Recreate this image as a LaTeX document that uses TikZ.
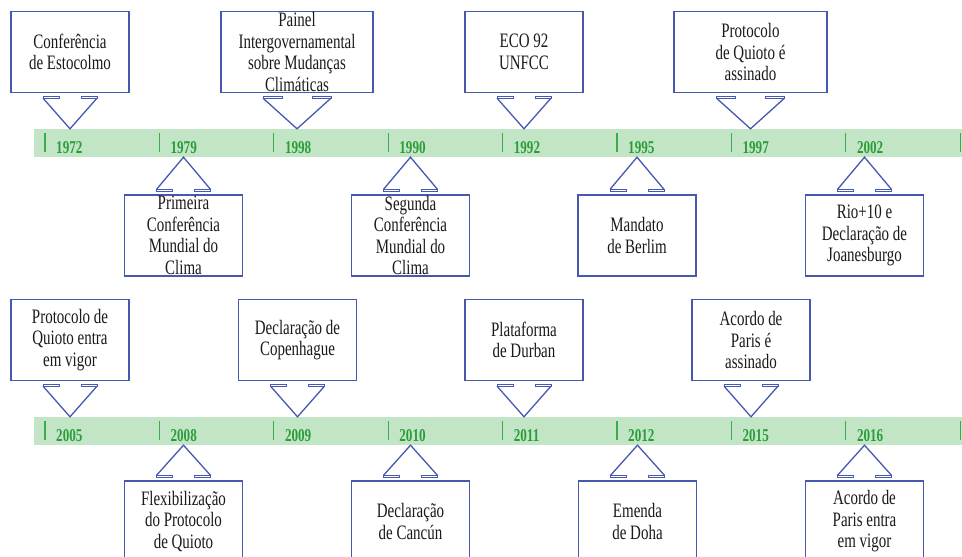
\documentclass[tikz,border=0pt]{standalone}
\usepackage{fontspec}
\setmainfont{Liberation Serif}[FakeStretch=0.73]
\definecolor{boxblue}{HTML}{4758B0}
\definecolor{bandgreen}{HTML}{C2E5C5}
\definecolor{tickgreen}{HTML}{3CAB4B}
\definecolor{yeargreen}{HTML}{2A9C3A}
\definecolor{textgray}{HTML}{1A1A1A}
\begin{document}
\begin{tikzpicture}[x=1pt,y=-1pt,
  callout/.style={draw=boxblue,line width=1.3pt,fill=white,minimum width=118pt,minimum height=81pt,inner sep=0pt,align=center,text=textgray,font=\fontsize{20.5}{21.5}\selectfont},
  band/.style={fill=bandgreen,minimum width=928pt,minimum height=28pt,inner sep=0pt},
  yearlbl/.style={anchor=base west,inner sep=0pt,text=yeargreen,font=\fontsize{18}{18}\selectfont\bfseries},
  tickmark/.style={tickgreen,line width=1.2pt},
  shoulder/.style={draw=boxblue,line width=1pt,fill=white},
  pointer/.style={boxblue,line width=1.3pt,line join=miter}]
\useasboundingbox (0,0) rectangle (962,557);
\clip (0,0) rectangle (962,557);
%\draw[step=50,gray,very thin] (0,0) grid (962,557);
% bands
\node[band] (band1) at (498,143) {};
\node[band] (band2) at (498,431) {};
\foreach \k in {0,...,8}{
  \draw[tickmark] (45+114.4*\k,133) -- (45+114.4*\k,152);
  \draw[tickmark] (45+114.4*\k,421) -- (45+114.4*\k,440);
}
\foreach \yr [count=\k from 0] in {1972,1979,1998,1990,1992,1995,1997,2002}
  \node[yearlbl] (y\yr) at (56+114.4*\k,153) {\yr};
\foreach \yr [count=\k from 0] in {2005,2008,2009,2010,2011,2012,2015,2016}
  \node[yearlbl] (y\yr) at (56+114.4*\k,441) {\yr};
% first row
\node[callout] (stoc) at (70,52) {Conferência\\de Estocolmo};
\node[callout,minimum width=152pt] (ipcc) at (297,52) {Painel\\Intergovernamental\\sobre Mudanças\\Climáticas};
\node[callout] (eco) at (524,52) {ECO 92\\UNFCC};
\node[callout,minimum width=153pt] (kyoto) at (750.5,52) {Protocolo\\de Quioto é\\assinado};
\node[callout] (prim) at (183.5,235.5) {Primeira\\Conferência\\Mundial do\\Clima};
\node[callout] (segu) at (410.5,235.5) {Segunda\\Conferência\\Mundial do\\Clima};
\node[callout] (berl) at (637,235.5) {Mandato\\de Berlim};
\node[callout] (rio) at (864.5,235.5) {Rio+10 e\\Declaração de\\Joanesburgo};
% second row
\node[callout] (kyotoin) at (70,340) {Protocolo de\\Quioto entra\\em vigor};
\node[callout] (cope) at (297.5,340) {Declaração de\\Copenhague};
\node[callout] (durb) at (524,340) {Plataforma\\de Durban};
\node[callout] (paris) at (751,340) {Acordo de\\Paris é\\assinado};
\node[callout] (flex) at (183.5,521.5) {Flexibilização\\do Protocolo\\de Quioto};
\node[callout] (canc) at (410.5,521.5) {Declaração\\de Cancún};
\node[callout] (doha) at (637.5,521.5) {Emenda\\de Doha};
\node[callout] (parisin) at (864.5,521.5) {Acordo de\\Paris entra\\em vigor};
% pointers to the bands
\foreach \b/\a/\s/\w/\l/\r/\e in {stoc/south/1/27/16/band1/north,ipcc/south/1/34/19/band1/north,
  eco/south/1/27/16/band1/north,kyoto/south/1/34/19/band1/north,
  prim/north/-1/27/16/band1/south,segu/north/-1/27/16/band1/south,
  berl/north/-1/27/16/band1/south,rio/north/-1/27/16/band1/south,
  kyotoin/south/1/27/16/band2/north,cope/south/1/27/16/band2/north,
  durb/south/1/27/16/band2/north,paris/south/1/27/16/band2/north,
  flex/north/-1/27/16/band2/south,canc/north/-1/27/16/band2/south,
  doha/north/-1/27/16/band2/south,parisin/north/-1/27/16/band2/south}{
  \draw[shoulder] ([xshift=-\w pt,yshift=-3pt*\s]\b.\a) rectangle ([xshift=-\w pt+\l pt,yshift=-5pt*\s]\b.\a);
  \draw[shoulder] ([xshift=\w pt-\l pt,yshift=-3pt*\s]\b.\a) rectangle ([xshift=\w pt,yshift=-5pt*\s]\b.\a);
  \draw[pointer] ([xshift=-\w pt,yshift=-5pt*\s]\b.\a) -- (\b.\a |- \r.\e) -- ([xshift=\w pt,yshift=-5pt*\s]\b.\a);
}
\end{tikzpicture}
\end{document}
